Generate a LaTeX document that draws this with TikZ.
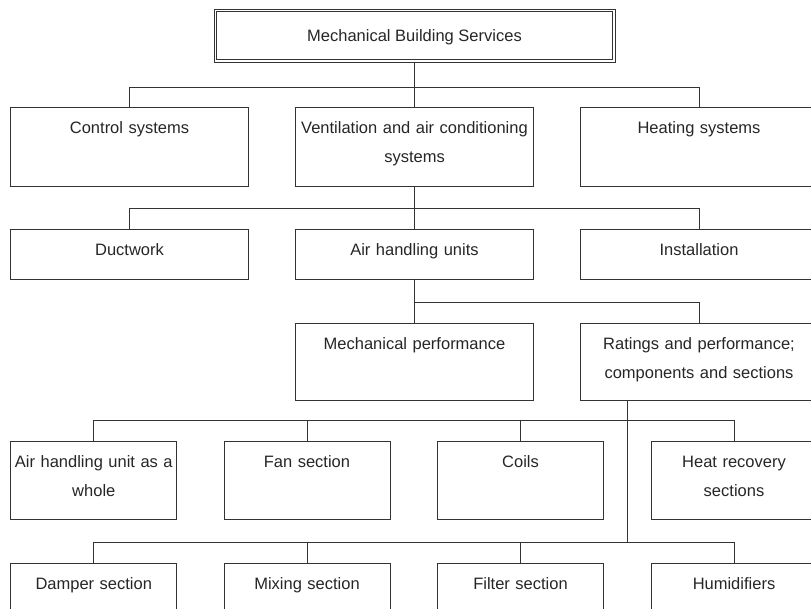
\documentclass[tikz,border=0pt]{standalone}
\usepackage{fontspec}
\setmainfont{Liberation Sans}

\begin{document}
\begin{tikzpicture}[x=1pt, y=-1pt, line width=0.8pt, draw=black!80,
    box/.style={draw=black!80, rectangle, anchor=north, inner xsep=0pt, inner ysep=0pt, align=center,
        text height=26.5pt, font=\fontsize{16.5}{29}\selectfont, text=black!85},
    wideBox/.style={box, text width=237.5pt},
    narrowBox/.style={box, text width=166pt}]
\useasboundingbox (0,0) rectangle (811,608);
\clip (0,0) rectangle (811,608);

\node[draw=black!80, rectangle, inner sep=0pt, minimum width=396pt, minimum height=48pt,
    text height=12pt, text depth=0pt, font=\fontsize{16.5}{29}\selectfont, text=black!85] (mechServices) at (414.5,35.7) {Mechanical Building Services};
\draw (mechServices.north west) ++(-2,-2) rectangle ([shift={(2,2)}]mechServices.south east);

\node[wideBox, text depth=52.8pt] (controlSys) at (129.5,106.7) {Control systems};
\node[wideBox, text depth=52.8pt] (ventSys) at (414.5,106.7) {Ventilation and air conditioning\\systems};
\node[wideBox, text depth=52.8pt] (heatingSys) at (699,106.7) {Heating systems};

\node[wideBox, text depth=23.8pt] (ductwork) at (129.5,228.7) {Ductwork};
\node[wideBox, text depth=23.8pt] (airHandling) at (414.5,228.7) {Air handling units};
\node[wideBox, text depth=23.8pt] (installation) at (699,228.7) {Installation};

\node[wideBox, text depth=50.8pt] (mechPerf) at (414.5,322.7) {Mechanical performance};
\node[wideBox, text depth=50.8pt] (ratings) at (699,322.7) {Ratings and performance;\\components and sections};

\node[narrowBox, text depth=51.2pt] (ahuWhole) at (93.8,441) {Air handling unit as a\\whole};
\node[narrowBox, text depth=51.2pt] (fanSection) at (307,441) {Fan section};
\node[narrowBox, text depth=51.2pt] (coils) at (520.5,441) {Coils};
\node[narrowBox, text depth=51.2pt] (heatRecovery) at (734,441) {Heat recovery\\sections};

\node[narrowBox, text depth=34pt] (damperSection) at (93.8,562.7) {Damper section};
\node[narrowBox, text depth=34pt] (mixingSection) at (307,562.7) {Mixing section};
\node[narrowBox, text depth=34pt] (filterSection) at (520.5,562.7) {Filter section};
\node[narrowBox, text depth=34pt] (humidifiers) at (734,562.7) {Humidifiers};

\coordinate (busTop) at (414.5,87.3);
\draw (mechServices.south) ++(0,2) -- (busTop);
\draw (controlSys.north) |- (busTop) -| (heatingSys.north);
\draw (busTop) -- (ventSys.north);

\coordinate (busVent) at (414.5,208.3);
\draw (ventSys.south) -- (airHandling.north);
\draw (ductwork.north) |- (busVent) -| (installation.north);

\coordinate (busAhu) at (414.5,302.7);
\draw (airHandling.south) -- (mechPerf.north);
\draw (busAhu) -| (ratings.north);

\coordinate (busComp) at (627.3,420.7);
\coordinate (busSect) at (627.3,542.3);
\draw (ratings.south -| busSect) -- (busSect);
\draw (ahuWhole.north) |- (busComp) -| (heatRecovery.north);
\draw (fanSection.north) -- (fanSection.north |- busComp);
\draw (coils.north) -- (coils.north |- busComp);
\draw (damperSection.north) |- (busSect) -| (humidifiers.north);
\draw (mixingSection.north) -- (mixingSection.north |- busSect);
\draw (filterSection.north) -- (filterSection.north |- busSect);

\end{tikzpicture}
\end{document}
